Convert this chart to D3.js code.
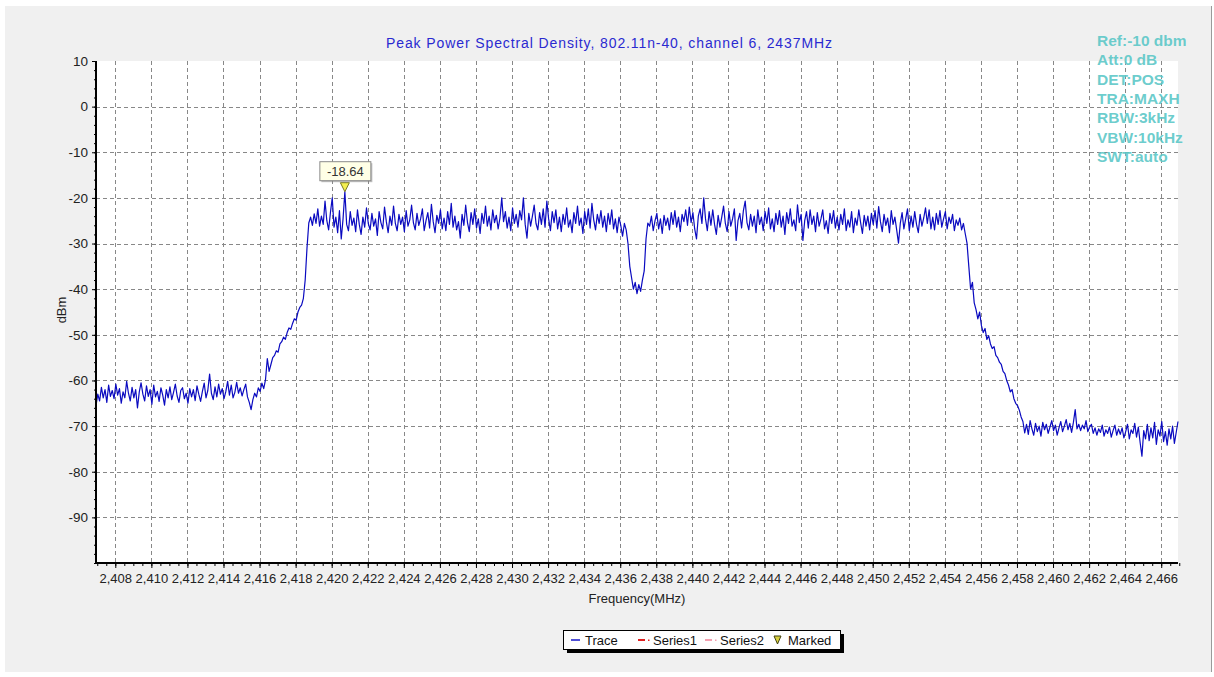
<!DOCTYPE html>
<html>
<head>
<meta charset="utf-8">
<script src="https://cdn.jsdelivr.net/npm/d3@7"></script>
<style>
  html, body { margin: 0; padding: 0; background: #ffffff; }
  svg { display: block; font-family: "Liberation Sans", Arial, sans-serif; }
</style>
</head>
<body>
<svg id="chart" width="1214" height="677"></svg>
<script>
// ---------- DATA ----------
const chartTitle = "Peak Power Spectral Density, 802.11n-40, channel 6, 2437MHz";
const xAxisTitle = "Frequency(MHz)";
const yAxisTitle = "dBm";
const freqStart = 2406.93;   // first sweep point (MHz)
const freqStep = 0.1;        // sweep point spacing (MHz)
const xTickValues = [2408,2410,2412,2414,2416,2418,2420,2422,2424,2426,2428,2430,2432,2434,2436,2438,
                     2440,2442,2444,2446,2448,2450,2452,2454,2456,2458,2460,2462,2464,2466];
const yTickValues = [10,0,-10,-20,-30,-40,-50,-60,-70,-80,-90];
const infoLines = ["Ref:-10 dbm","Att:0 dB","DET:POS","TRA:MAXH","RBW:3kHz","VBW:10kHz","SWT:auto"];
const markerFreq = 2420.73;
const markerValue = -18.64;
const legendNames = ["Trace","Series1","Series2","Marked"];

// trace values (dBm), one per sweep point
const traceDbm = [
 // lower noise floor
 -65.5,-63.0,-64.5,-61.5,-63.8,-62.0,-64.8,-61.0,-63.5,-62.2,
 -64.0,-60.8,-63.2,-61.8,-65.0,-62.5,-63.8,-60.2,-62.8,-64.5,
 -61.5,-63.8,-62.0,-66.0,-62.5,-60.5,-63.0,-64.5,-61.2,-63.5,
 -62.0,-65.2,-61.0,-63.6,-62.4,-64.6,-61.6,-63.2,-65.4,-62.0,
 -63.8,-61.4,-64.2,-62.6,-60.8,-63.4,-64.8,-62.2,-61.6,-64.0,
 -62.8,-65.0,-61.8,-63.6,-62.0,-64.4,-61.2,-63.0,-64.6,-62.4,
 -60.6,-63.8,-62.2,-58.6,-62.8,-64.2,-61.4,-63.6,-60.8,-63.0,
 -61.8,-64.0,-62.4,-60.2,-63.2,-61.0,-63.8,-62.6,-60.4,-62.8,
 -61.6,-63.4,-62.0,-60.8,-63.6,-64.8,-66.4,
 // rising edge
 -64.2,-62.8,-63.6,-61.6,-62.4,-60.6,-61.8,-59.8,-55.2,-58.0,
 -56.5,-55.0,-54.5,-53.5,-53.8,-52.0,-51.5,-50.5,-51.0,-49.5,
 -48.5,-48.8,-47.5,-46.5,-46.8,-45.0,-44.0,-43.5,-42.0,
 -38.0,-31.0,-25.5,
 // lower in-band
 -24.2,-26.0,-23.5,-25.6,-22.4,-26.2,-24.0,-25.8,-20.7,-25.0,
 -27.0,-23.2,-20.0,-26.4,-24.2,-27.6,-22.8,-29.0,-24.6,-18.64,
 -25.8,-27.2,-23.0,-26.0,-24.4,-27.4,-22.6,-25.8,-28.0,-24.2,
 -26.4,-22.2,-25.6,-27.0,-23.4,-26.2,-24.6,-28.2,-23.0,-25.4,
 -26.8,-22.0,-25.2,-27.6,-24.0,-26.0,-21.8,-25.6,-27.2,-23.6,
 -25.8,-24.2,-27.4,-22.8,-26.2,-24.8,-21.6,-25.4,-27.0,-23.4,
 -26.0,-24.6,-22.4,-27.2,-25.0,-23.2,-26.6,-21.4,-25.2,-27.6,
 -23.8,-25.6,-22.6,-26.8,-24.4,-27.2,-23.0,-25.8,-21.2,-26.4,
 -24.0,-27.0,-25.2,-28.8,-23.6,-26.0,-21.6,-25.4,-27.4,-23.2,
 -25.8,-22.4,-26.6,-24.6,-27.8,-23.4,-25.6,-21.8,-26.2,-24.0,
 -27.0,-22.6,-25.4,-23.8,-26.8,-24.4,-20.0,-25.2,-23.0,-26.6,
 -24.2,-27.2,-22.2,-25.6,-23.6,-26.4,-22.8,-24.8,-20.0,-25.8,
 -28.8,-23.4,-26.2,-24.0,-21.6,-25.6,-27.0,-23.2,-25.8,-22.4,
 -26.4,-20.7,-24.6,-27.2,-23.0,-25.4,-22.6,-26.8,-24.2,-27.4,
 -23.6,-25.8,-22.2,-26.4,-24.8,-27.6,-23.2,-25.6,-21.8,-26.0,
 -24.4,-27.8,-23.0,-25.8,-22.4,-26.6,-21.2,-24.8,-27.0,-23.6,
 -25.6,-22.8,-26.4,-24.0,-27.4,-23.4,-25.8,-22.6,-26.8,-24.6,
 -27.6,-24.2,-26.0,-28.4,-25.6,
 // centre notch
 -27.0,-30.0,-35.0,-37.5,-40.0,-38.5,-41.0,-39.0,-40.5,-38.0,-36.0,-29.0,-25.5,
 // upper in-band
 -26.2,-24.0,-27.2,-25.0,-23.4,-26.8,-24.6,-27.8,-23.8,-26.0,
 -24.4,-27.0,-23.2,-25.8,-22.8,-26.4,-24.2,-27.4,-23.6,-25.2,
 -22.6,-26.0,-22.0,-25.4,-23.2,-26.8,-29.0,-24.0,-22.4,-25.6,
 -20.0,-24.6,-27.2,-23.0,-26.0,-22.6,-25.8,-28.0,-23.8,-26.4,
 -24.2,-21.8,-25.6,-27.4,-23.0,-26.2,-24.6,-22.4,-29.3,-25.0,
 -23.4,-26.6,-22.8,-20.7,-25.4,-27.0,-23.6,-26.2,-24.0,-27.6,
 -22.6,-25.8,-24.2,-27.2,-23.0,-25.6,-22.2,-26.8,-24.6,-27.4,
 -23.4,-25.8,-22.8,-26.4,-24.0,-28.0,-23.2,-25.6,-22.4,-26.2,
 -24.8,-27.2,-21.5,-25.4,-23.6,-29.3,-25.0,-23.0,-26.6,-22.6,
 -25.8,-24.0,-27.4,-23.2,-26.2,-24.6,-22.6,-26.8,-25.0,-27.8,
 -23.4,-25.6,-22.8,-26.6,-24.2,-27.0,-23.6,-25.8,-22.4,-27.2,
 -24.8,-26.4,-23.0,-27.6,-24.4,-26.0,-22.6,-25.4,-27.8,-23.8,
 -26.2,-24.0,-27.0,-23.4,-25.8,-22.8,-26.6,-21.9,-25.2,-27.4,
 -23.6,-26.0,-24.4,-27.6,-22.8,-25.8,-24.2,-27.0,-29.9,-25.6,
 -23.2,-26.8,-24.6,-22.4,-27.2,-24.0,-26.4,-23.0,-25.8,-27.6,
 -23.6,-26.2,-24.4,-22.2,-25.6,-22.6,-26.8,-24.2,-27.0,-23.4,
 -25.8,-22.8,-26.4,-24.6,-23.0,-26.8,-24.2,-25.6,-23.6,-27.2,
 -24.8,-26.0,-24.4,-27.0,-25.6,-27.8,
 // falling edge
 -29.9,-35.0,-40.0,-38.5,-43.0,-44.5,-46.5,-45.0,-48.0,-49.5,
 -48.6,-51.0,-50.2,-52.0,-53.0,-52.6,-54.5,-55.0,-56.0,-56.5,
 -58.0,-58.5,-60.0,-61.0,-62.5,-62.0,-64.0,-65.0,-65.5,-66.5,
 -68.0,-69.0,-71.5,
 // upper noise floor
 -69.6,-71.8,-68.8,-70.6,-72.0,-69.4,-71.2,-70.0,-72.2,-69.2,
 -70.8,-69.6,-71.6,-70.2,-68.8,-71.0,-69.8,-72.0,-70.4,-69.0,
 -71.2,-70.0,-68.6,-70.8,-69.4,-71.4,-69.2,-66.4,-70.6,-69.6,
 -71.0,-69.8,-70.6,-68.8,-71.2,-70.2,-69.6,-71.6,-70.4,-72.0,
 -70.6,-71.4,-69.8,-72.2,-70.8,-71.6,-70.2,-72.4,-71.0,-69.8,
 -72.0,-70.6,-71.8,-70.4,-72.6,-71.2,-69.6,-72.8,-70.8,-71.6,
 -69.4,-72.4,-70.2,-73.6,-76.6,-71.0,-72.8,-69.6,-73.2,-70.4,
 -72.6,-69.2,-74.0,-70.8,-72.2,-69.0,-73.4,-71.2,-74.2,-70.6,
 -72.8,-70.0,-73.8,-71.4,-69.0
];

// ---------- DRAW ----------
const svg = d3.select("#chart");
const W = 1214, H = 677;
const plot = { left: 96, right: 1178, top: 61, bottom: 563 };
const FONT = "Liberation Sans, Arial, sans-serif";

const x = d3.scaleLinear().domain([freqStart, freqStart + freqStep * (traceDbm.length - 1)])
  .range([plot.left, plot.right]);
const y = d3.scaleLinear().domain([-100, 10]).range([plot.bottom, plot.top]);

// background panel
svg.append("rect").attr("x", 0).attr("y", 0).attr("width", W).attr("height", H).attr("fill", "#ffffff");
svg.append("rect").attr("x", 5).attr("y", 6).attr("width", 1206).attr("height", 666).attr("fill", "#f0f0f0");
svg.append("line").attr("x1", 1211.5).attr("x2", 1211.5).attr("y1", 6).attr("y2", 672)
  .attr("stroke", "#9a9a9a").attr("stroke-width", 1);

// plot area
svg.append("rect").attr("x", plot.left).attr("y", plot.top)
  .attr("width", plot.right - plot.left).attr("height", plot.bottom - plot.top).attr("fill", "#ffffff");

// grid
const grid = svg.append("g").attr("stroke", "#888888").attr("stroke-width", 1).attr("stroke-dasharray", "4,3");
grid.selectAll("line.v").data(xTickValues).join("line")
  .attr("x1", d => Math.round(x(d)) + 0.5).attr("x2", d => Math.round(x(d)) + 0.5)
  .attr("y1", plot.top).attr("y2", plot.bottom);
grid.selectAll("line.h").data(yTickValues.filter(v => v < 10)).join("line")
  .attr("y1", d => Math.round(y(d)) + 0.5).attr("y2", d => Math.round(y(d)) + 0.5)
  .attr("x1", plot.left).attr("x2", plot.right);

// trace
const line = d3.line().x((d, i) => x(freqStart + freqStep * i)).y(d => y(d));
svg.append("path").datum(traceDbm).attr("d", line)
  .attr("fill", "none").attr("stroke", "#0a0ac0").attr("stroke-width", 1.2).attr("stroke-linejoin", "round");

// axes
const yAxis = d3.axisLeft(y).tickValues(yTickValues).tickSize(4).tickPadding(4).tickFormat(d => String(d));
const gy = svg.append("g").attr("transform", `translate(${plot.left},0)`).call(yAxis);
gy.select(".domain").remove();
gy.selectAll("text").attr("font-size", 13.5).attr("fill", "#222").attr("font-family", FONT);
gy.selectAll("line").attr("stroke", "#000");
const yMinor = d3.axisLeft(y).tickValues(d3.range(-100, 10.1, 2)).tickSize(2).tickFormat("");
const gym = svg.append("g").attr("transform", `translate(${plot.left},0)`).call(yMinor);
gym.select(".domain").remove();

const xAxis = d3.axisBottom(x).tickValues(xTickValues).tickSize(5).tickPadding(6).tickFormat(d3.format(","));
const gx = svg.append("g").attr("transform", `translate(0,${plot.bottom})`).call(xAxis);
gx.select(".domain").remove();
gx.selectAll("text").attr("font-size", 13).attr("fill", "#222").attr("font-family", FONT);
const xMinorVals = d3.range(2407, 2467.01, 0.5);
const xMinor = d3.axisBottom(x).tickValues(xMinorVals).tickSize(3).tickFormat("");
const gxm = svg.append("g").attr("transform", `translate(0,${plot.bottom})`).call(xMinor);
gxm.select(".domain").remove();

// axis lines
svg.append("line").attr("x1", plot.left).attr("x2", plot.left).attr("y1", plot.top).attr("y2", plot.bottom + 1)
  .attr("stroke", "#000").attr("stroke-width", 2);
svg.append("line").attr("x1", plot.left - 1).attr("x2", plot.right).attr("y1", plot.bottom).attr("y2", plot.bottom)
  .attr("stroke", "#000").attr("stroke-width", 2);

// titles
svg.append("text").attr("x", 609).attr("y", 48).attr("text-anchor", "middle")
  .attr("font-size", 14).attr("fill", "#2a2ad0")
  .attr("textLength", 446).attr("lengthAdjust", "spacing").text(chartTitle);
svg.append("text").attr("x", (plot.left + plot.right) / 2).attr("y", 603).attr("text-anchor", "middle")
  .attr("font-size", 13).attr("fill", "#222").text(xAxisTitle);
svg.append("text").attr("transform", "translate(66,310) rotate(-90)").attr("text-anchor", "middle")
  .attr("font-size", 13).attr("fill", "#222").text(yAxisTitle);

// info block
svg.append("g").selectAll("text").data(infoLines).join("text")
  .attr("x", 1097).attr("y", (d, i) => 46 + i * 19.3)
  .attr("font-size", 15.5).attr("font-weight", "bold").attr("fill", "#5ec8c8").attr("fill-opacity", 0.92)
  .text(d => d);

// marker
const mx = x(markerFreq), my = y(markerValue);
svg.append("path").attr("d", `M${mx - 4.5},${my - 9} L${mx + 4.5},${my - 9} L${mx},${my} Z`)
  .attr("fill", "#f4f050").attr("stroke", "#7a7a20").attr("stroke-width", 1);
const lbl = svg.append("g");
lbl.append("rect").attr("x", mx - 25).attr("y", my - 30).attr("width", 51).attr("height", 19)
  .attr("fill", "#808080").attr("opacity", 0.5).attr("transform", "translate(1.5,1.5)");
lbl.append("rect").attr("x", mx - 25).attr("y", my - 30).attr("width", 51).attr("height", 19)
  .attr("fill", "#ffffe6").attr("stroke", "#8a8a8a").attr("stroke-width", 1);
lbl.append("text").attr("x", mx + 0.5).attr("y", my - 15.5).attr("text-anchor", "middle")
  .attr("font-size", 13).attr("fill", "#333").text(markerValue.toFixed(2));

// legend
const lg = svg.append("g");
lg.append("rect").attr("x", 567).attr("y", 634).attr("width", 277).attr("height", 19).attr("fill", "#000");
lg.append("rect").attr("x", 563.5).attr("y", 630.5).attr("width", 277).attr("height", 19)
  .attr("fill", "#ffffff").attr("stroke", "#000").attr("stroke-width", 1);
const legY = 640;
// Trace symbol
lg.append("line").attr("x1", 571).attr("x2", 580).attr("y1", legY).attr("y2", legY).attr("stroke", "#1414c8").attr("stroke-width", 1.5);
// Series1 symbol (red dash-dot)
lg.append("line").attr("x1", 638).attr("x2", 645).attr("y1", legY).attr("y2", legY).attr("stroke", "#e02020").attr("stroke-width", 2);
lg.append("rect").attr("x", 648).attr("y", legY - 0.5).attr("width", 1.5).attr("height", 1.5).attr("fill", "#e02020");
// Series2 symbol (pink dash-dot)
lg.append("line").attr("x1", 705).attr("x2", 712).attr("y1", legY).attr("y2", legY).attr("stroke", "#f4a0b0").attr("stroke-width", 2);
lg.append("rect").attr("x", 715).attr("y", legY - 0.5).attr("width", 1.5).attr("height", 1.5).attr("fill", "#f4a0b0");
// Marked symbol
lg.append("path").attr("d", `M774,${legY - 4} L781,${legY - 4} L777.5,${legY + 4} Z`)
  .attr("fill", "#d8d040").attr("stroke", "#404010").attr("stroke-width", 1);
const legTextX = [585, 653, 720, 788];
lg.selectAll("text").data(legendNames).join("text")
  .attr("x", (d, i) => legTextX[i]).attr("y", legY + 4.5)
  .attr("font-size", 13).attr("fill", "#111").text(d => d);
</script>
</body>
</html>
